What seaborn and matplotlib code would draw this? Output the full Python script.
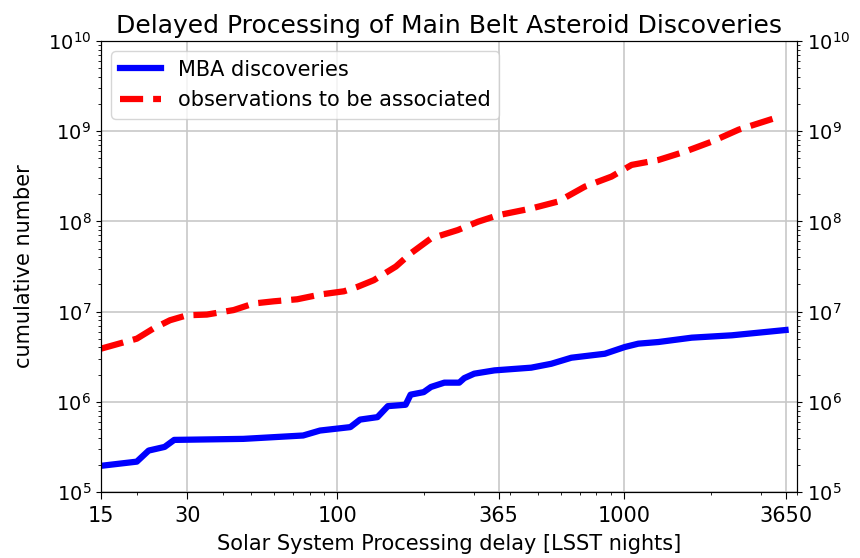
"""Delayed processing of main belt asteroid discoveries."""
import matplotlib
matplotlib.use('Agg')
from matplotlib import pyplot as plt
from matplotlib import ticker
import pandas as pd
import seaborn as sns

# MBA discoveries (cumulative)
mba_days = [15, 20, 22, 25, 27, 47, 76, 87, 111, 120, 138, 150, 173, 180,
            200, 212, 236, 266, 277, 300, 353, 474, 557, 654, 856, 1005,
            1120, 1316, 1719, 2373, 3650]
mba_count = [1.95e5, 2.17e5, 2.88e5, 3.16e5, 3.78e5, 3.88e5, 4.23e5, 4.80e5,
             5.24e5, 6.35e5, 6.76e5, 8.95e5, 9.27e5, 1.20e6, 1.28e6, 1.46e6,
             1.63e6, 1.63e6, 1.83e6, 2.05e6, 2.23e6, 2.39e6, 2.64e6, 3.08e6,
             3.41e6, 4.05e6, 4.41e6, 4.60e6, 5.14e6, 5.46e6, 6.25e6]

# observations still to be associated (cumulative)
obs_days = [15, 20, 22.8, 26.1, 29.9, 35.1, 43.5, 51.1, 60, 72.5, 87.5, 105.5,
            117.5, 134, 160, 180, 212, 263, 309, 363, 474, 588, 729, 903,
            1061, 1316, 1629, 2020, 2505, 3500]
obs_count = [3.88e6, 5.01e6, 6.47e6, 8.02e6, 9.10e6, 9.27e6, 1.04e7, 1.23e7,
             1.30e7, 1.37e7, 1.55e7, 1.68e7, 1.88e7, 2.23e7, 3.16e7, 4.41e7,
             6.47e7, 8.02e7, 9.91e7, 1.17e8, 1.39e8, 1.66e8, 2.43e8, 3.14e8,
             4.23e8, 4.80e8, 5.94e8, 7.67e8, 1.04e9, 1.46e9]

x_ticks = [15, 30, 100, 365, 1000, 3650]

mba = pd.DataFrame({'days': mba_days, 'n': mba_count})
obs = pd.DataFrame({'days': obs_days, 'n': obs_count})

plt.rcParams['font.family'] = ['DejaVu Sans']
fig = plt.figure(figsize=(8.6, 5.58), dpi=100)
ax = fig.add_axes([0.1174, 0.1183, 0.8093, 0.8082])
ax.set_xscale('log')
ax.set_yscale('log')

sns.lineplot(mba, x='days', y='n', ax=ax, color='blue', linewidth=4.5,
             estimator=None, label='MBA discoveries')
sns.lineplot(obs, x='days', y='n', ax=ax, color='red', linewidth=4.5,
             linestyle='--', estimator=None, label='observations to be associated')

ax.set_xlim(15, 4000)
ax.set_ylim(1e5, 1e10)
ax.set_xticks(x_ticks)
ax.xaxis.set_major_formatter(ticker.FixedFormatter([str(t) for t in x_ticks]))
ax.xaxis.set_minor_formatter(ticker.NullFormatter())
ax.grid(True, which='major', color='#c8c8c8', linewidth=1.2)
ax.tick_params(axis='x', labelsize=15, pad=5)
ax.tick_params(axis='x', which='major', length=5)
ax.tick_params(axis='y', labelsize=14)

ax.set_title('Delayed Processing of Main Belt Asteroid Discoveries', fontsize=18)
ax.set_xlabel('Solar System Processing delay [LSST nights]', fontsize=15,
              labelpad=6)
ax.set_ylabel('cumulative number', fontsize=15, labelpad=10)
ax.legend(loc='upper left', fontsize=15)

# mirrored y axis on the right
ax2 = ax.twinx()
ax2.set_yscale('log')
ax2.set_ylim(1e5, 1e10)
ax2.tick_params(labelsize=14)

fig.savefig('out.png', dpi=100)
